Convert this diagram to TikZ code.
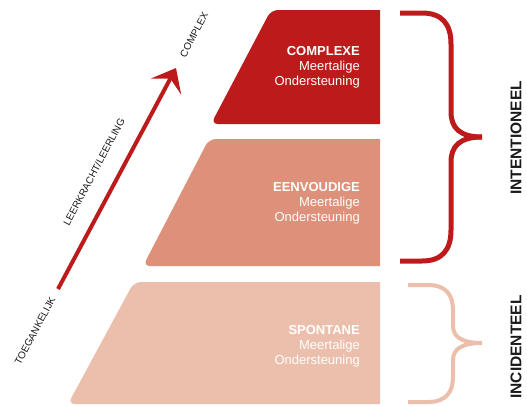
\documentclass[tikz,border=0pt]{standalone}
\usepackage{fontspec}
\setmainfont{Liberation Sans}
\usetikzlibrary{arrows.meta}
\definecolor{levelhigh}{HTML}{BD1B1B}
\definecolor{levelmid}{HTML}{DD907A}
\definecolor{levellow}{HTML}{EBBFAC}
\definecolor{labelink}{HTML}{1A1A1A}
\begin{document}
\begin{tikzpicture}[x=1pt,y=-1pt,
  tier/.style={rounded corners=7pt},
  tiertext/.style={anchor=east, align=right, text=white, inner sep=0pt,
    font=\fontsize{13}{15}\selectfont},
  axislabel/.style={text=labelink, rotate=62, inner sep=0pt,
    font=\fontsize{10}{12}\selectfont},
  bracelabel/.style={text=labelink, rotate=90, inner sep=0pt,
    font=\fontsize{15.5}{18}\selectfont\bfseries},
  bracehigh/.style={draw=levelhigh, line width=5pt},
  bracelow/.style={draw=levellow, line width=4pt},
  growth/.style={draw=levelhigh, line width=4pt,
    -{Stealth[length=21pt, width=34pt, inset=9pt]}}
]
\useasboundingbox (0,0) rectangle (527,405);

% three tiers of the pyramid, cut off straight on the right
\begin{scope}
  \clip (0,0) rectangle (380,405);
  \fill[levelhigh, tier] (271,10) -- (400,10) -- (400,124) -- (211,124) -- cycle;
  \fill[levelmid, tier] (209,139) -- (400,139) -- (400,266) -- (143,266) -- cycle;
  \fill[levellow, tier] (134,282) -- (400,282) -- (400,404) -- (68,404) -- cycle;
\end{scope}

% tier captions
\node[tiertext] (complexe) at (360,67) {\textbf{COMPLEXE}\\Meertalige\\Ondersteuning};
\node[tiertext] (eenvoudige) at (360,203) {\textbf{EENVOUDIGE}\\Meertalige\\Ondersteuning};
\node[tiertext] (spontane) at (360,346) {\textbf{SPONTANE}\\Meertalige\\Ondersteuning};

% growth arrow with its labels
\coordinate (arrowtail) at (58,289);
\coordinate (arrowtip) at (176,68);
\draw[growth] (arrowtail) -- (arrowtip);
\node[axislabel] (toegankelijk) at (35,331) {TOEGANKELIJK};
\node[axislabel] (leerkracht) at (94,172) {LEERKRACHT/LEERLING};
\node[axislabel] (complex) at (194,35) {COMPLEX};

% braces on the right
\coordinate (hightip) at (482,137);
\draw[bracehigh] (400,13) -- (422,13) .. controls (442,13) and (451,24) .. (451,44)
  -- (451,112) .. controls (451,128) and (460,137) .. (hightip);
\draw[bracehigh] (400,261) -- (422,261) .. controls (442,261) and (451,250) .. (451,230)
  -- (451,162) .. controls (451,146) and (460,137) .. (hightip);

\coordinate (lowtip) at (482,343);
\draw[bracelow] (408,285) -- (428,285) .. controls (446,285) and (453,295) .. (453,310)
  -- (453,326) .. controls (453,337) and (462,343) .. (lowtip);
\draw[bracelow] (408,402) -- (428,402) .. controls (446,402) and (453,392) .. (453,377)
  -- (453,360) .. controls (453,349) and (462,343) .. (lowtip);

\node[bracelabel] (intentioneel) at (516,138) {INTENTIONEEL};
\node[bracelabel] (incidenteel) at (516,347) {INCIDENTEEL};
\end{tikzpicture}
\end{document}
